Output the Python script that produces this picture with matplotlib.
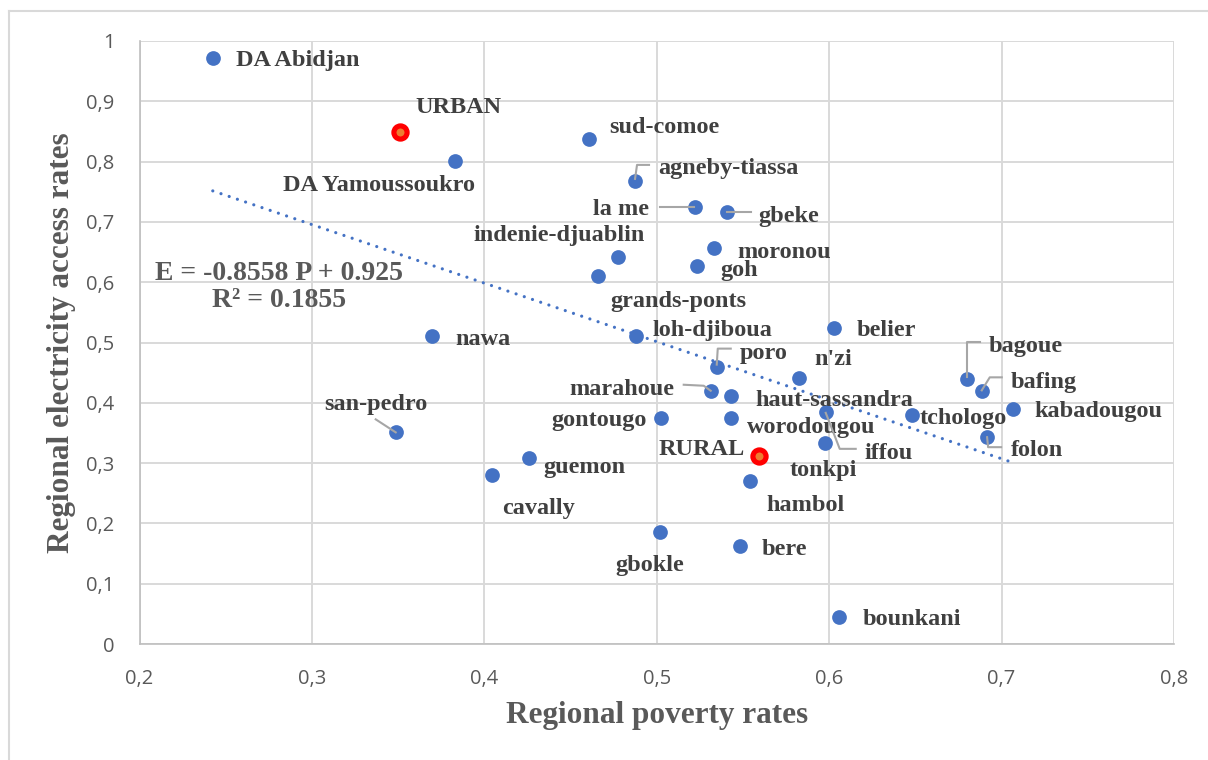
import numpy as np
import matplotlib
matplotlib.use("Agg")
import matplotlib.pyplot as plt
from matplotlib.lines import Line2D
from matplotlib.transforms import IdentityTransform

# ---------------- data ----------------
regions = ["DA Abidjan", "DA Yamoussoukro", "sud-comoe", "agneby-tiassa", "la me",
           "gbeke", "indenie-djuablin", "moronou", "goh", "grands-ponts", "belier",
           "nawa", "loh-djiboua", "san-pedro", "guemon", "cavally", "poro", "n'zi",
           "marahoue", "haut-sassandra", "gontougo", "worodougou", "iffou", "tonkpi",
           "hambol", "gbokle", "bere", "bounkani", "bagoue", "bafing", "kabadougou",
           "tchologo", "folon"]
poverty = [0.2425, 0.3832, 0.4607, 0.4874, 0.5220, 0.5406, 0.4776, 0.5332, 0.5236,
           0.4659, 0.6027, 0.3698, 0.4878, 0.3486, 0.4257, 0.4046, 0.5348, 0.5827,
           0.5313, 0.5433, 0.5027, 0.5433, 0.5980, 0.5976, 0.5543, 0.5021, 0.5481,
           0.6057, 0.6800, 0.6885, 0.7065, 0.6479, 0.6916]
access = [0.971, 0.801, 0.837, 0.768, 0.725, 0.716, 0.641, 0.656, 0.627, 0.611,
          0.524, 0.510, 0.511, 0.351, 0.308, 0.280, 0.460, 0.441, 0.420, 0.411,
          0.374, 0.374, 0.385, 0.333, 0.270, 0.185, 0.1625, 0.044, 0.439, 0.419,
          0.389, 0.380, 0.343]

areas = ["URBAN", "RURAL"]
poverty_areas = [0.3509, 0.5593]
access_areas = [0.8486, 0.311]

equation_text = "E = -0.8558 P + 0.925\nR² = 0.1855"

x_ticks = [0.2, 0.3, 0.4, 0.5, 0.6, 0.7, 0.8]
x_ticklabels = ["0,2", "0,3", "0,4", "0,5", "0,6", "0,7", "0,8"]
y_ticks = [0, 0.1, 0.2, 0.3, 0.4, 0.5, 0.6, 0.7, 0.8, 0.9, 1.0]
y_ticklabels = ["0", "0,1", "0,2", "0,3", "0,4", "0,5", "0,6", "0,7", "0,8", "0,9", "1"]

x_title = "Regional poverty rates"
y_title = "Regional electricity access rates"

# ---------------- layout / style ----------------
W, H = 1208, 760
BLUE = "#4472C4"
LABEL_C = "#404040"
TITLE_C = "#595959"
GRID_C = "#d9d9d9"
SERIF = ["Liberation Serif", "DejaVu Serif"]

# label offsets in pixels (dx right, dy up), horizontal alignment
label_pos = {
    "DA Abidjan": (23, 0, "left"), "URBAN": (16, 27, "left"),
    "DA Yamoussoukro": (20, -22, "right"), "sud-comoe": (20, 14, "left"),
    "agneby-tiassa": (23, 15, "left"), "la me": (-46, 0, "right"),
    "gbeke": (32, -2, "left"), "indenie-djuablin": (27, 24, "right"),
    "moronou": (23, -2, "left"), "goh": (23, -2, "left"),
    "grands-ponts": (12, -23, "left"), "loh-djiboua": (17, 8, "left"),
    "belier": (23, 0, "left"), "nawa": (23, -1, "left"),
    "san-pedro": (-20, 30, "center"), "poro": (23, 16, "left"),
    "n'zi": (15, 21, "left"), "marahoue": (-36, 4, "right"),
    "haut-sassandra": (24, -2, "left"), "gontougo": (-15, 0, "right"),
    "worodougou": (16, -7, "left"), "iffou": (39, -39, "left"),
    "tonkpi": (-2, -25, "center"), "RURAL": (-14, 9, "right"),
    "tchologo": (8, -1, "left"), "guemon": (15, -7, "left"),
    "cavally": (10, -31, "left"), "hambol": (16, -22, "left"),
    "gbokle": (-11, -31, "center"), "bere": (22, -1, "left"),
    "bounkani": (24, 0, "left"), "bagoue": (22, 35, "left"),
    "bafing": (29, 11, "left"), "kabadougou": (22, 0, "left"),
    "folon": (24, -11, "left"),
}
# leader lines: vertex offsets in pixels (dx right, dy up)
leaders = {
    "agneby-tiassa": [(0, 2), (2, 16), (14, 16)],
    "la me": [(-35, 0), (-1, 0)],
    "gbeke": [(0, 0), (24, 0)],
    "san-pedro": [(-20, 13), (0, 0)],
    "poro": [(0, 2), (1, 18), (14, 18)],
    "marahoue": [(-27, 6), (-7, 5), (0, 0)],
    "iffou": [(0, -1), (14, -37), (30, -37)],
    "bagoue": [(0, 2), (0, 37), (13, 37)],
    "bafing": [(0, 1), (8, 14), (20, 14)],
    "folon": [(0, 0), (1, -10), (14, -10)],
}

fig = plt.figure(figsize=(W / 100, H / 100), dpi=100)
ax_l, ax_r, ax_t, ax_b = 139.5, 1174, 41, 644
ax = fig.add_axes([ax_l / W, 1 - ax_b / H, (ax_r - ax_l) / W, (ax_b - ax_t) / H])
ax.set_xlim(0.2, 0.8)
ax.set_ylim(0, 1)
ax.set_xticks(x_ticks)
ax.set_xticklabels(x_ticklabels)
ax.set_yticks(y_ticks)
ax.set_yticklabels(y_ticklabels)
ax.tick_params(length=0, labelsize=14.5, labelcolor=TITLE_C)
ax.tick_params(axis="y", pad=18)
ax.tick_params(axis="x", pad=18)
for lab in ax.get_xticklabels() + ax.get_yticklabels():
    lab.set_fontfamily(["Open Sans", "DejaVu Sans"])
ax.grid(True, color=GRID_C, lw=1.4)
ax.set_axisbelow(True)
for s in ["top", "right"]:
    ax.spines[s].set_visible(False)
for s in ["left", "bottom"]:
    ax.spines[s].set_color("#bfbfbf")
    ax.spines[s].set_linewidth(1.2)

# trendline (fit over all plotted points)
all_x = np.array(poverty + poverty_areas)
all_y = np.array(access + access_areas)
slope, intercept = np.polyfit(all_x, all_y, 1)
tx = np.array([all_x.min(), all_x.max()])
ax.plot(tx, slope * tx + intercept, color=BLUE, lw=2.3,
        linestyle=(0, (0.01, 2.7)), dash_capstyle="round", zorder=2)

# points
ax.plot(poverty, access, "o", color=BLUE, ms=10.6, mec="none", zorder=3)
ax.plot(poverty_areas, access_areas, "o", color="#ED7D31", ms=9.5,
        mec="#FF0000", mew=3.7, zorder=3)

# labels
names = regions + areas
xs = poverty + poverty_areas
ys = access + access_areas
for n, x, y in zip(names, xs, ys):
    dx, dy, ha = label_pos[n]
    ax.annotate(n, (x, y), xytext=(dx, dy), textcoords="offset pixels",
                ha=ha, va="center_baseline", fontsize=17.5, fontweight="bold",
                color=LABEL_C, family=SERIF, zorder=5)

# leader lines (display pixels)
for n, verts in leaders.items():
    i = names.index(n)
    px, py = ax.transData.transform((xs[i], ys[i]))
    lx = [px + v[0] for v in verts]
    ly = [py + v[1] for v in verts]
    fig.add_artist(Line2D(lx, ly, transform=IdentityTransform(),
                          color="#a6a6a6", lw=1.5, zorder=6))

# equation
fig.text(279 / W, 1 - 287 / H, equation_text, ha="center", va="center",
         fontsize=20, fontweight="bold", color=TITLE_C, family=SERIF,
         linespacing=1.15)

# axis titles
fig.text(656.8 / W, 1 - 716 / H, x_title, ha="center", va="center",
         fontsize=22.5, fontweight="bold", color=TITLE_C, family=SERIF)
fig.text(62 / W, 1 - 343 / H, y_title, ha="center", va="center", rotation=90,
         fontsize=22.5, fontweight="bold", color=TITLE_C, family=SERIF)

# chart-area border (left & top visible in crop)
fig.add_artist(Line2D([9 / W, 9 / W], [0, 1 - 11 / H], transform=fig.transFigure,
                      color=GRID_C, lw=1.5))
fig.add_artist(Line2D([9 / W, 1], [1 - 11 / H, 1 - 11 / H], transform=fig.transFigure,
                      color=GRID_C, lw=1.5))

fig.savefig("out.png", dpi=100)
